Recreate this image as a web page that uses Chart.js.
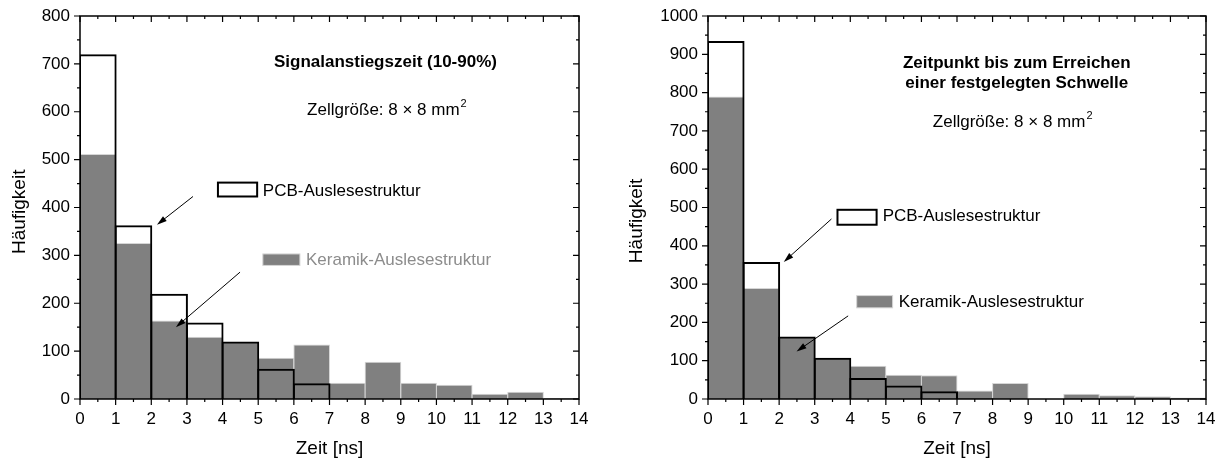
<!DOCTYPE html>
<html>
<head>
<meta charset="utf-8">
<script src="https://cdn.jsdelivr.net/npm/chart.js@4.4.1/dist/chart.umd.min.js"></script>
<style>
    body { margin: 0; background: #fff; width: 1225px; height: 465px; overflow: hidden; }
    canvas { position: absolute; top: 0; }
    #chartLeft { left: 0; }
    #chartRight { left: 612px; }
</style>
</head>
<body>
<canvas id="chartLeft" width="612" height="465"></canvas>
<canvas id="chartRight" width="613" height="465"></canvas>
<script>
// Klassen: linke Kante jedes 1-ns-Bins
const binStart = [0, 1, 2, 3, 4, 5, 6, 7, 8, 9, 10, 11, 12, 13];

// Signalanstiegszeit (10-90%)
const pcbRise     = [720, 363, 220, 160, 120, 63, 33, 0, 0, 0, 0, 0, 0, 0];
const keramikRise = [512, 326, 164, 130, 119, 86, 114, 34, 78, 34, 30, 11, 15, 2];

// Zeitpunkt bis zum Erreichen einer festgelegten Schwelle
const pcbThreshold     = [935, 358, 163, 108, 55, 35, 20, 2, 0, 0, 0, 0, 0, 0];
const keramikThreshold = [790, 290, 162, 107, 87, 63, 62, 22, 42, 0, 14, 10, 7, 4];

// Achsenbeschriftungen
const xTicks = [0, 1, 2, 3, 4, 5, 6, 7, 8, 9, 10, 11, 12, 13, 14];
const yTicksRise = [0, 100, 200, 300, 400, 500, 600, 700, 800];
const yTicksThreshold = [0, 100, 200, 300, 400, 500, 600, 700, 800, 900, 1000];

const FONT = "'Liberation Sans', Arial, sans-serif";

function toPoints(values) {
    return values.map((v, i) => ({ x: binStart[i] + 0.5, y: v }));
}

// Rahmen, Ticks, y-Titel, Legende, Pfeile und Texte
const rahmen = {
    id: 'rahmen',
    afterDatasetsDraw(chart, args, opts) {
        const ctx = chart.ctx;
        const a = chart.chartArea;
        const x = chart.scales.x;
        const y = chart.scales.y;
        ctx.save();

        ctx.strokeStyle = '#000';
        ctx.lineWidth = 1.5;
        ctx.strokeRect(a.left, a.top, a.right - a.left, a.bottom - a.top);

        ctx.lineWidth = 1.2;
        ctx.beginPath();
        for (let v = x.min; v <= x.max; v += 0.5) {
            const px = x.getPixelForValue(v);
            const len = v % 1 === 0 ? 6 : 3;
            ctx.moveTo(px, a.bottom); ctx.lineTo(px, a.bottom + len);
            ctx.moveTo(px, a.top); ctx.lineTo(px, a.top + len);
        }
        for (let v = y.min; v <= y.max; v += 50) {
            const py = y.getPixelForValue(v);
            const len = v % 100 === 0 ? 6 : 3;
            ctx.moveTo(a.left, py); ctx.lineTo(a.left - len, py);
            ctx.moveTo(a.right, py); ctx.lineTo(a.right - len, py);
        }
        ctx.stroke();

        // y-Achsentitel
        ctx.fillStyle = '#000';
        ctx.font = '19px ' + FONT;
        ctx.textAlign = 'center';
        ctx.textBaseline = 'middle';
        ctx.save();
        ctx.translate(a.left + opts.yTitleDx, y.getPixelForValue(opts.yTitleY));
        ctx.rotate(-Math.PI / 2);
        ctx.fillText(opts.yTitle, 0, 0);
        ctx.restore();

        // Titeltexte
        ctx.textBaseline = 'alphabetic';
        opts.texts.forEach(t => {
            ctx.font = 'bold 17px ' + FONT;
            ctx.textAlign = 'center';
            ctx.fillText(t.text, x.getPixelForValue(t.x), y.getPixelForValue(t.y));
        });

        // Zellgröße
        ctx.font = '17px ' + FONT;
        ctx.textAlign = 'left';
        const zx = x.getPixelForValue(opts.zelle.x);
        const zy = y.getPixelForValue(opts.zelle.y);
        const zText = 'Zellgröße: 8 \u00d7 8 mm';
        ctx.fillText(zText, zx, zy);
        const zw = ctx.measureText(zText).width;
        ctx.font = '11px ' + FONT;
        ctx.fillText('2', zx + zw + 1, zy - 8);

        // Legende
        opts.legend.forEach(l => {
            const x1 = x.getPixelForValue(l.box[0]);
            const y1 = y.getPixelForValue(l.box[1]);
            const x2 = x.getPixelForValue(l.box[2]);
            const y2 = y.getPixelForValue(l.box[3]);
            ctx.fillStyle = l.fill;
            ctx.fillRect(x1, y1, x2 - x1, y2 - y1);
            ctx.strokeStyle = l.stroke;
            ctx.lineWidth = l.lw;
            ctx.strokeRect(x1, y1, x2 - x1, y2 - y1);
            ctx.fillStyle = l.color;
            ctx.font = '17px ' + FONT;
            ctx.textAlign = 'left';
            ctx.fillText(l.text, x.getPixelForValue(l.tx), y.getPixelForValue(l.ty));
        });

        // Pfeile
        ctx.strokeStyle = '#000';
        ctx.fillStyle = '#000';
        ctx.lineWidth = 1;
        opts.arrows.forEach(p => {
            const x0 = x.getPixelForValue(p[0]);
            const y0 = y.getPixelForValue(p[1]);
            const x1 = x.getPixelForValue(p[2]);
            const y1 = y.getPixelForValue(p[3]);
            const ang = Math.atan2(y1 - y0, x1 - x0);
            ctx.beginPath();
            ctx.moveTo(x0, y0);
            ctx.lineTo(x1 - 6 * Math.cos(ang), y1 - 6 * Math.sin(ang));
            ctx.stroke();
            ctx.beginPath();
            ctx.moveTo(x1, y1);
            ctx.lineTo(x1 - 10 * Math.cos(ang) + 3 * Math.sin(ang), y1 - 10 * Math.sin(ang) - 3 * Math.cos(ang));
            ctx.lineTo(x1 - 10 * Math.cos(ang) - 3 * Math.sin(ang), y1 - 10 * Math.sin(ang) + 3 * Math.cos(ang));
            ctx.closePath();
            ctx.fill();
        });

        ctx.restore();
    }
};

function makeChart(id, pcb, keramik, yTicks, yMax, yWidth, padRight, deko) {
    const ctx = document.getElementById(id);
    return new Chart(ctx, {
        type: 'bar',
        data: {
            datasets: [{
                label: 'PCB-Auslesestruktur',
                data: toPoints(pcb),
                backgroundColor: 'rgba(0,0,0,0)',
                borderColor: '#000',
                borderWidth: 2,
                barPercentage: 1.056,
                categoryPercentage: 1,
                grouped: false,
                inflateAmount: 0,
                order: 0
            }, {
                label: 'Keramik-Auslesestruktur',
                data: toPoints(keramik),
                backgroundColor: '#808080',
                borderColor: '#d6d6d6',
                borderWidth: 1,
                barPercentage: 1.028,
                categoryPercentage: 1,
                grouped: false,
                inflateAmount: 0,
                order: 1
            }]
        },
        options: {
            responsive: false,
            animation: false,
            layout: { padding: { left: 0, right: padRight, top: 16, bottom: 0 } },
            plugins: {
                legend: { display: false },
                tooltip: { enabled: false },
                rahmen: deko
            },
            scales: {
                x: {
                    type: 'linear',
                    min: 0,
                    max: 14,
                    offset: false,
                    afterBuildTicks: s => { s.ticks = xTicks.map(v => ({ value: v })); },
                    afterFit: s => { s.height = 66; s.paddingLeft = 0; s.paddingRight = 0; },
                    grid: { display: false, drawTicks: false },
                    border: { display: false },
                    ticks: { color: '#000', font: { family: FONT, size: 17 }, padding: 10, maxRotation: 0, autoSkip: false, callback: v => String(v) },
                    title: { display: true, text: 'Zeit [ns]', color: '#000', font: { family: FONT, size: 19 }, padding: { top: 0, bottom: 5 } }
                },
                y: {
                    min: 0,
                    max: yMax,
                    afterBuildTicks: s => { s.ticks = yTicks.map(v => ({ value: v })); },
                    afterFit: s => { s.width = yWidth; s.paddingTop = 0; s.paddingBottom = 0; },
                    grid: { display: false, drawTicks: false },
                    border: { display: false },
                    ticks: { color: '#000', font: { family: FONT, size: 17 }, padding: 10, callback: v => String(v) }
                }
            }
        },
        plugins: [rahmen]
    });
}

makeChart('chartLeft', pcbRise, keramikRise, yTicksRise, 800, 80, 33, {
    yTitle: 'Häufigkeit', yTitleDx: -60, yTitleY: 391,
    texts: [{ text: 'Signalanstiegszeit (10-90%)', x: 8.57, y: 694 }],
    zelle: { x: 6.37, y: 594 },
    legend: [
        { box: [3.87, 452, 4.97, 423], fill: '#fff', stroke: '#000', lw: 2, text: 'PCB-Auslesestruktur', tx: 5.13, ty: 424, color: '#000' },
        { box: [5.13, 303, 6.17, 279], fill: '#808080', stroke: '#d6d6d6', lw: 1, text: 'Keramik-Auslesestruktur', tx: 6.34, ty: 280, color: '#8c8c8c' }
    ],
    arrows: [[3.17, 423, 2.16, 364], [4.49, 265, 2.69, 150]]
});

makeChart('chartRight', pcbThreshold, keramikThreshold, yTicksThreshold, 1000, 96, 19, {
    yTitle: 'Häufigkeit', yTitleDx: -71, yTitleY: 465,
    texts: [
        { text: 'Zeitpunkt bis zum Erreichen', x: 8.68, y: 864 },
        { text: 'einer festgelegten Schwelle', x: 8.68, y: 812 }
    ],
    zelle: { x: 6.32, y: 709 },
    legend: [
        { box: [3.64, 494, 4.74, 455], fill: '#fff', stroke: '#000', lw: 2, text: 'PCB-Auslesestruktur', tx: 4.91, ty: 464, color: '#000' },
        { box: [4.18, 270, 5.19, 238], fill: '#808080', stroke: '#d6d6d6', lw: 1, text: 'Keramik-Auslesestruktur', tx: 5.36, ty: 240, color: '#000' }
    ],
    arrows: [[3.47, 470, 2.13, 358], [3.94, 217, 2.49, 124]]
});
</script>
</body>
</html>
